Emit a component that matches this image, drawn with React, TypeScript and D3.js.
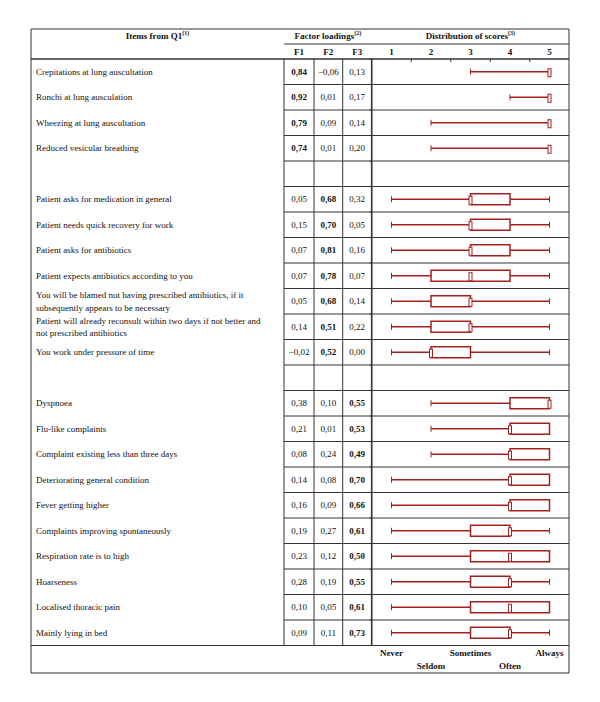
import * as d3 from "d3";

const items: (string | null)[] = [
  "Crepitations at lung auscultation",
  "Ronchi at lung ausculation",
  "Wheezing at lung auscultation",
  "Reduced vesicular breathing",
  null,
  "Patient asks for medication in general",
  "Patient needs quick recovery for work",
  "Patient asks for antibiotics",
  "Patient expects antibiotics according to you",
  "You will be blamed not having prescribed antibiotics, if it\nsubsequently appears to be necessary",
  "Patient will already reconsult within two days if not better and\nnot prescribed antibiotics",
  "You work under pressure of time",
  null,
  "Dyspnoea",
  "Flu-like complaints",
  "Complaint existing less than three days",
  "Deteriorating general condition",
  "Fever getting higher",
  "Complaints improving spontaneously",
  "Respiration rate is to high",
  "Hoarseness",
  "Localised thoracic pain",
  "Mainly lying in bed",
];

const f1 = [0.84, 0.92, 0.79, 0.74, null, 0.05, 0.15, 0.07, 0.07, 0.05, 0.14, -0.02, null, 0.38, 0.21, 0.08, 0.14, 0.16, 0.19, 0.23, 0.28, 0.1, 0.09];
const f2 = [-0.06, 0.01, 0.09, 0.01, null, 0.68, 0.7, 0.81, 0.78, 0.68, 0.51, 0.52, null, 0.1, 0.01, 0.24, 0.08, 0.09, 0.27, 0.12, 0.19, 0.05, 0.11];
const f3 = [0.13, 0.17, 0.14, 0.2, null, 0.32, 0.05, 0.16, 0.07, 0.14, 0.22, 0.0, null, 0.55, 0.53, 0.49, 0.7, 0.66, 0.61, 0.5, 0.55, 0.61, 0.73];

// box plot: whisker low, q1, median, q3, whisker high
const lo = [3, 4, 2, 2, null, 1, 1, 1, 1, 1, 1, 1, null, 2, 2, 2, 1, 1, 1, 1, 1, 1, 1];
const q1 = [5, 5, 5, 5, null, 3, 3, 3, 2, 2, 2, 2, null, 4, 4, 4, 4, 4, 3, 3, 3, 3, 3];
const med = [5, 5, 5, 5, null, 3, 3, 3, 3, 3, 3, 2, null, 5, 4, 4, 4, 4, 4, 4, 4, 4, 4];
const q3 = [5, 5, 5, 5, null, 4, 4, 4, 4, 3, 3, 3, null, 5, 5, 5, 5, 5, 4, 5, 4, 5, 4];
const hi = [5, 5, 5, 5, null, 5, 5, 5, 5, 5, 5, 5, null, 5, 5, 5, 5, 5, 5, 5, 5, 5, 5];

const scoreTicks = [1, 2, 3, 4, 5];
const scoreLabels = ["Never", "Seldom", "Sometimes", "Often", "Always"];
const factorNames = ["F1", "F2", "F3"];

const RED = "#a32020";
const LINE = "#333";
const FONT = "'Liberation Serif', 'Times New Roman', serif";

const fmt = (v: number) => d3.format(".2f")(v).replace(".", ",");

export default function App() {
  const left = 31;
  const right = 569;
  const top = 29;
  const headMid = 44;
  const headBottom = 59;
  const tableBottom = 645.5;
  const footBottom = 673;
  const colX = [284, 314, 342.7, 371.7];

  const y = d3
    .scaleBand<number>()
    .domain(d3.range(items.length))
    .range([headBottom, tableBottom]);
  const x = d3.scaleLinear().domain([1, 5]).range([391.5, 549.5]);

  const factors = [f1, f2, f3];

  return (
    <svg
      width={600}
      height={702}
      style={{ position: "absolute", left: 0, top: 0, background: "#fff" }}
      fontFamily={FONT}
    >
      <rect width={600} height={702} fill="#fff" />

      {/* header text */}
      <g fontWeight="bold" fontSize={9} textAnchor="middle" fill="#111">
        <text x={(left + colX[0]) / 2} y={39}>
          Items from Q1<tspan fontSize={6} dy={-4}>(1)</tspan>
        </text>
        <text x={(colX[0] + colX[3]) / 2} y={39}>
          Factor loadings<tspan fontSize={6} dy={-4}>(2)</tspan>
        </text>
        <text x={(colX[3] + right) / 2} y={39}>
          Distribution of scores<tspan fontSize={6} dy={-4}>(3)</tspan>
        </text>
        {factorNames.map((n, i) => (
          <text key={n} x={(colX[i] + colX[i + 1]) / 2} y={55}>
            {n}
          </text>
        ))}
        {scoreTicks.map((t) => (
          <text key={t} x={x(t)} y={55}>
            {t}
          </text>
        ))}
      </g>

      {/* grid lines */}
      <g stroke={LINE} strokeWidth={1} fill="none">
        <line x1={left} x2={right} y1={top} y2={top} />
        <line x1={colX[0]} x2={right} y1={headMid} y2={headMid} />
        <line x1={left} x2={right} y1={headBottom} y2={headBottom} strokeWidth={1.3} />
        <line x1={left} x2={right} y1={tableBottom} y2={tableBottom} />
        <line x1={left} x2={right} y1={footBottom} y2={footBottom} />
        <line x1={left} x2={left} y1={top} y2={footBottom} />
        <line x1={right} x2={right} y1={top} y2={footBottom} />
        {colX.map((cx, i) => (
          <line
            key={cx}
            x1={cx}
            x2={cx}
            y1={headBottom}
            y2={tableBottom}
            strokeWidth={i === 3 ? 1.6 : 1}
          />
        ))}
        {d3.range(1, items.length).map((i) => (
          <line
            key={i}
            x1={colX[0]}
            x2={right}
            y1={y(i)!}
            y2={y(i)!}
          />
        ))}
        {d3.range(0, items.length + 1).map((i) => (
          <line
            key={"t" + i}
            x1={colX[3] - 2}
            x2={colX[3]}
            y1={i === items.length ? tableBottom : y(i)!}
            y2={i === items.length ? tableBottom : y(i)!}
          />
        ))}
        {[1.5, 2.5, 3.5, 4.5].map((t) => (
          <line key={t} x1={x(t)} x2={x(t)} y1={headBottom} y2={headBottom + 3} />
        ))}
      </g>

      {/* rows */}
      {items.map((label, i) => {
        if (label === null) return null;
        const cy = y(i)! + y.bandwidth() / 2;
        const lines = label.split("\n");
        const vals = factors.map((f) => f[i] as number);
        const maxIdx = d3.maxIndex(vals);
        return (
          <g key={i}>
            <g fontSize={9} fill="#111">
              {lines.map((l, k) => (
                <text
                  key={k}
                  x={36}
                  y={cy + 3 + (k - (lines.length - 1) / 2) * 12.5}
                >
                  {l}
                </text>
              ))}
              {vals.map((v, k) => (
                <text
                  key={"v" + k}
                  x={(colX[k] + colX[k + 1]) / 2}
                  y={cy + 3}
                  textAnchor="middle"
                  fontWeight={k === maxIdx ? "bold" : "normal"}
                >
                  {fmt(v)}
                </text>
              ))}
            </g>
            <g stroke={RED} fill="#fff">
              <line x1={x(lo[i]!)} x2={x(hi[i]!)} y1={cy} y2={cy} strokeWidth={1.6} />
              <line x1={x(lo[i]!)} x2={x(lo[i]!)} y1={cy - 3} y2={cy + 3} strokeWidth={1} />
              <line x1={x(hi[i]!)} x2={x(hi[i]!)} y1={cy - 3} y2={cy + 3} strokeWidth={1} />
              {q3[i]! > q1[i]! && (
                <rect
                  x={x(q1[i]!)}
                  y={cy - 5.5}
                  width={x(q3[i]!) - x(q1[i]!)}
                  height={11}
                  strokeWidth={1.5}
                />
              )}
              <rect
                x={x(med[i]!) - 1.5}
                y={cy - 3}
                width={3}
                height={8}
                strokeWidth={1}
              />
            </g>
          </g>
        );
      })}

      {/* footer labels */}
      <g fontWeight="bold" fontSize={9} textAnchor="middle" fill="#111">
        {scoreLabels.map((s, i) => (
          <text key={s} x={x(scoreTicks[i])} y={i % 2 === 0 ? 656 : 669}>
            {s}
          </text>
        ))}
      </g>
    </svg>
  );
}
